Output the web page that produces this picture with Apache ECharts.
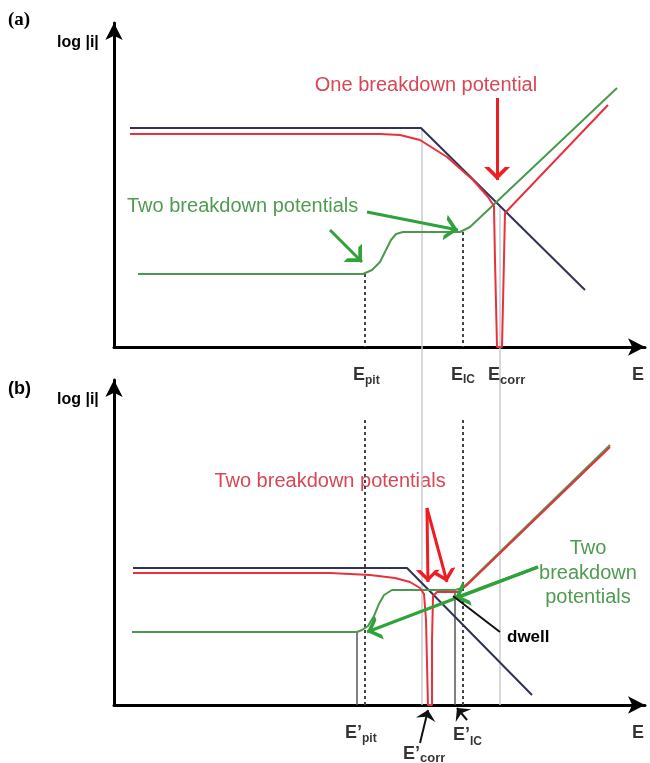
<!DOCTYPE html>
<html>
<head>
<meta charset="utf-8">
<script src="https://cdn.jsdelivr.net/npm/echarts@6/dist/echarts.min.js"></script>
<style>
  html, body { margin: 0; padding: 0; background: #fff; }
  #chart { width: 650px; height: 763px; }
</style>
</head>
<body>
<div id="chart"></div>
<script>
// ---------- Panel (a): E (x) vs log|i| (y), arbitrary units 0-100 ----------
const navyA = [[3.01, 67.59], [57.81, 67.59], [88.70, 17.59]];
const redA = [
  [3.01, 65.74], [50.09, 65.74], [53.86, 65.43], [57.63, 63.89], [62.71, 58.64],
  [67.61, 51.54], [70.43, 46.30], [71.56, 43.52], [71.75, 26.85], [72.13, 0],
  [73.07, 0], [73.44, 26.85], [73.63, 41.36], [93.03, 74.69]
];
const greenA = [
  [4.52, 22.53], [46.89, 22.53], [48.59, 23.77], [50.09, 26.23], [51.22, 29.94],
  [52.16, 33.02], [53.11, 34.88], [54.42, 35.49], [65.16, 35.49], [67.04, 37.04],
  [94.73, 79.94]
];
// characteristic potentials, panel (a)
const ticksA = [
  { main: 'E', sub: 'pit', e: 47.27, from: 22.53 },
  { main: 'E', sub: 'IC', e: 65.72, from: 35.49 },
  { main: 'E', sub: 'corr', e: 72.69, from: null }
];
const redArrowA = [[[72.13, 76.85], [72.13, 51.54]]];
const greenArrowsA = [
  [[47.65, 41.67], [64.78, 36.11]],
  [[40.68, 36.11], [46.70, 26.23]]
];

// ---------- Panel (b) ----------
const navyB = [[3.58, 42.15], [55.18, 42.15], [78.72, 3.08]];
const redB = [
  [3.58, 40.62], [40.68, 40.62], [48.21, 40.00], [52.92, 39.08], [55.74, 37.85],
  [57.63, 36.00], [58.38, 34.15], [58.76, 26.15], [59.13, 0], [59.89, 0],
  [59.89, 20.00], [60.08, 33.54], [60.83, 34.77], [64.78, 34.77], [66.48, 36.92],
  [93.41, 79.38]
];
const greenB = [
  [3.39, 22.46], [45.76, 22.46], [46.70, 23.08], [47.83, 24.31], [48.96, 27.38],
  [49.90, 31.08], [50.85, 33.85], [52.35, 35.38], [64.22, 35.38], [65.54, 36.00],
  [66.67, 37.54], [93.41, 80.00]
];
// shifted potentials, panel (b)
const ticksB = [
  { main: 'E\u2019', sub: 'pit', e: 45.76, from: 22.46 },
  { main: 'E\u2019', sub: 'corr', e: 59.51, from: null },
  { main: 'E\u2019', sub: 'IC', e: 64.22, from: 34.77 }
];
// old potentials carried down as dotted guides (panel b units)
const dottedB = [[47.27, 87.69], [65.72, 87.69]];
// light guides crossing both panels (panel b units)
const guides = [[58.00, 177.54], [72.69, 153.54]];

const redArrowsB = [
  [[58.94, 60.62], [59.13, 37.85]],
  [[58.94, 60.62], [62.71, 37.85]]
];
const greenArrowsB = [
  [[79.84, 42.46], [47.65, 22.46]],
  [[79.84, 42.46], [64.22, 32.92]]
];
const dwellPointer = [[[72.69, 22.46], [63.84, 33.54]]];
const blackArrowsB = [
  [[57.63, -11.69], [59.13, -1.54]],
  [[66.48, -4.62], [64.59, -0.92]]
];
const axisEndE = 98.68;

// ---------- rendering ----------
const FONT = 'Arial, "Liberation Sans", sans-serif';
const NAVY = '#2f3355', RED = '#e8313d', GREEN = '#4a9a4e';
const RED_ARROW = '#ee1d23', GREEN_ARROW = '#2fa23a';
const RED_TEXT = '#d94656', GREEN_TEXT = '#4f9b50';

// chevron whose tip sits at the symbol centre
const CHEVRON = 'path://M5,0L5,0M0,20L5,10L10,20L8,20L5,14L2,20Z';
const HEAD = 'path://M5,0L5,0M0,20L5,10L10,20L5,17Z';

function curve(data, color, gi) {
  return {
    type: 'line', xAxisIndex: gi, yAxisIndex: gi, data,
    showSymbol: false, symbol: 'none', silent: true, z: 3,
    lineStyle: { color, width: 2 }
  };
}
function segs(list, gi, style, head, headSize, z) {
  return {
    type: 'lines', coordinateSystem: 'cartesian2d', xAxisIndex: gi, yAxisIndex: gi,
    clip: false, silent: true, z: z || 4,
    symbol: ['none', head || 'none'], symbolSize: headSize || 10,
    lineStyle: Object.assign({ opacity: 1, curveness: 0 }, style),
    data: list.map(c => ({ coords: c }))
  };
}
const vert = (pairs) => pairs.map(p => [[p[0], p[1]], [p[0], 0]]);

const labLayout = {
  a: { pit: [0, 28.5, 0, 33.5], IC: [0, 28.5, 0, 32.5], corr: [0, 28.5, 0, 33] },
  b: { pit: [5, 28.5, 5, 33.5], corr: [-10, 49.5, -10, 53.5], IC: [15, 30.5, 15, 36.5] }
};
const subSize = { pit: 12, IC: 12, corr: 13 };

function tickLabels(ticks, gi, layout) {
  const data = [];
  ticks.forEach(t => {
    const L = layout[t.sub];
    data.push({ value: [t.e, 0], label: { show: true, formatter: t.main, position: 'inside',
      align: 'right', verticalAlign: 'middle', offset: [L[0], L[1]],
      fontSize: 18, fontWeight: 'bold', fontFamily: FONT, color: '#000' } });
    data.push({ value: [t.e, 0], label: { show: true, formatter: t.sub, position: 'inside',
      align: 'left', verticalAlign: 'middle', offset: [L[2], L[3]],
      fontSize: subSize[t.sub], fontWeight: 'bold', fontFamily: FONT, color: '#000' } });
  });
  data.push({ value: [axisEndE, 0], label: { show: true, formatter: 'E', position: 'inside',
    align: 'center', verticalAlign: 'middle', offset: [0, 28.5],
    fontSize: 18, fontWeight: 'bold', fontFamily: FONT, color: '#000' } });
  return {
    type: 'scatter', xAxisIndex: gi, yAxisIndex: gi, clip: false, silent: true, z: 5,
    symbolSize: 1, itemStyle: { color: 'rgba(0,0,0,0)' }, data
  };
}

const axisLine = {
  show: true, onZero: false,
  lineStyle: { color: '#000', width: 3 },
  symbol: ['none', 'arrow'], symbolSize: [13, 17]
};
const bare = { axisTick: { show: false }, axisLabel: { show: false }, splitLine: { show: false } };

const dottedA = ticksA.filter(t => t.from !== null).map(t => [t.e, t.from]);
const solidB = ticksB.filter(t => t.from !== null).map(t => [t.e, t.from]);

const option = {
  backgroundColor: '#fff',
  animation: false,
  grid: [
    { left: 114, right: 5, top: 23, bottom: 416 },
    { left: 114, right: 5, top: 380, bottom: 58 }
  ],
  xAxis: [
    Object.assign({ type: 'value', gridIndex: 0, min: 0, max: 100, axisLine }, bare),
    Object.assign({ type: 'value', gridIndex: 1, min: 0, max: 100, axisLine }, bare)
  ],
  yAxis: [
    Object.assign({ type: 'value', gridIndex: 0, min: 0, max: 100, axisLine }, bare),
    Object.assign({ type: 'value', gridIndex: 1, min: 0, max: 100, axisLine }, bare)
  ],
  graphic: [
    { type: 'text', x: 8, y: 20, style: { text: '(a)', font: 'bold 19px "Liberation Serif", "Times New Roman", serif', fill: '#000', verticalAlign: 'middle' } },
    { type: 'text', x: 8, y: 389, style: { text: '(b)', font: 'bold 18px ' + FONT, fill: '#000', verticalAlign: 'middle' } },
    { type: 'text', x: 57, y: 43, style: { text: 'log |i|', font: 'bold 16px ' + FONT, fill: '#000', verticalAlign: 'middle' } },
    { type: 'text', x: 57, y: 400, style: { text: 'log |i|', font: 'bold 16px ' + FONT, fill: '#000', verticalAlign: 'middle' } },
    { type: 'text', x: 426, y: 85, style: { text: 'One breakdown potential', font: '20px ' + FONT, fill: RED_TEXT, align: 'center', verticalAlign: 'middle' } },
    { type: 'text', x: 127, y: 206, style: { text: 'Two breakdown potentials', font: '20px ' + FONT, fill: GREEN_TEXT, verticalAlign: 'middle' } },
    { type: 'text', x: 330, y: 481, style: { text: 'Two breakdown potentials', font: '20px ' + FONT, fill: RED_TEXT, align: 'center', verticalAlign: 'middle' } },
    { type: 'text', x: 588, y: 573, style: { text: 'Two\nbreakdown\npotentials', font: '20px ' + FONT, lineHeight: 24.5, fill: GREEN_TEXT, align: 'center', verticalAlign: 'middle' } },
    { type: 'text', x: 507, y: 637, style: { text: 'dwell', font: 'bold 17px ' + FONT, fill: '#000', verticalAlign: 'middle' } }
  ],
  series: [
    // guides
    segs(vert(guides), 1, { color: '#c8cbd0', width: 1.5 }, null, null, 1),
    segs(vert(dottedA), 0, { color: '#444', width: 2, type: [3, 3] }, null, null, 2),
    segs(vert(dottedB), 1, { color: '#444', width: 2, type: [3, 3] }, null, null, 2),
    segs(vert(solidB), 1, { color: '#555', width: 1.5 }, null, null, 2),
    // curves (a)
    curve(navyA, NAVY, 0),
    curve(greenA, GREEN, 0),
    curve(redA, RED, 0),
    // curves (b)
    curve(navyB, NAVY, 1),
    curve(greenB, GREEN, 1),
    curve(redB, RED, 1),
    // annotation arrows
    segs(redArrowA, 0, { color: RED_ARROW, width: 3 }, CHEVRON, [18, 26]),
    segs(greenArrowsA, 0, { color: GREEN_ARROW, width: 3 }, CHEVRON, [15, 26]),
    segs(redArrowsB, 1, { color: RED_ARROW, width: 3 }, CHEVRON, [13, 24]),
    segs(greenArrowsB, 1, { color: GREEN_ARROW, width: 3 }, CHEVRON, [15, 26]),
    segs(dwellPointer, 1, { color: '#111', width: 2 }, null),
    segs(blackArrowsB, 1, { color: '#111', width: 2 }, HEAD, [8, 20]),
    // potential labels
    tickLabels(ticksA, 0, labLayout.a),
    tickLabels(ticksB, 1, labLayout.b)
  ]
};

const chart = echarts.init(document.getElementById('chart'), null, { renderer: 'canvas' });
chart.setOption(option);
</script>
</body>
</html>
